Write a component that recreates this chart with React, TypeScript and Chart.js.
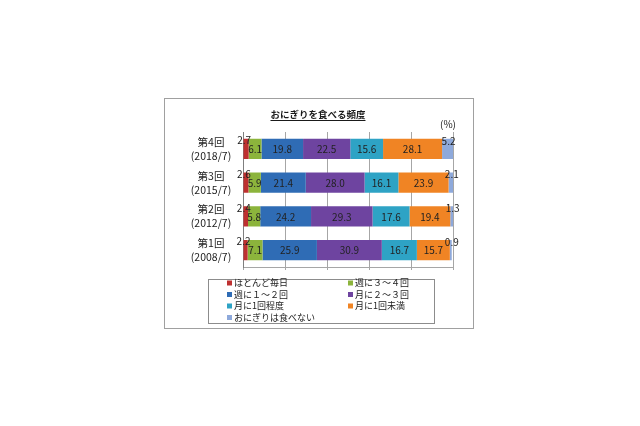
import { useEffect, useRef } from "react";
import { Chart, registerables } from "chart.js";

Chart.register(...registerables);

const FONT = '"Noto Sans CJK JP", "Noto Sans", sans-serif';

const titleText = "おにぎりを食べる頻度";
const unitText = "(%)";

const categories: string[][] = [
  ["第4回", "(2018/7)"],
  ["第3回", "(2015/7)"],
  ["第2回", "(2012/7)"],
  ["第1回", "(2008/7)"],
];

const seriesNames = [
  "ほとんど毎日",
  "週に３～４回",
  "週に１～２回",
  "月に２～３回",
  "月に1回程度",
  "月に1回未満",
  "おにぎりは食べない",
];

const seriesColors = [
  "#BE3030",
  "#8CB43C",
  "#2F6CB5",
  "#6E44A0",
  "#2EA3C5",
  "#F08424",
  "#8EA9DB",
];

const daily = [2.7, 2.6, 2.4, 2.2];
const week34 = [6.1, 5.9, 5.8, 7.1];
const week12 = [19.8, 21.4, 24.2, 25.9];
const month23 = [22.5, 28.0, 29.3, 30.9];
const month1 = [15.6, 16.1, 17.6, 16.7];
const lessMonth1 = [28.1, 23.9, 19.4, 15.7];
const never = [5.2, 2.1, 1.3, 0.9];

const seriesValues = [daily, week34, week12, month23, month1, lessMonth1, never];

const xMin = 0;
const xMax = 100;
const xStep = 20;

const framePlugin = {
  id: "frame",
  beforeDraw(chart: any) {
    const ctx = chart.ctx;
    ctx.save();
    ctx.fillStyle = "#ffffff";
    ctx.fillRect(0, 0, chart.width, chart.height);
    ctx.strokeStyle = "#A0A0A0";
    ctx.lineWidth = 1;
    ctx.strokeRect(164.5, 98.5, 309, 230);
    ctx.restore();
  },
};

const textPlugin = {
  id: "texts",
  afterDraw(chart: any) {
    const ctx = chart.ctx;
    ctx.save();
    // title
    ctx.fillStyle = "#1a1a1a";
    ctx.font = `bold 9.5px ${FONT}`;
    ctx.textAlign = "center";
    ctx.textBaseline = "middle";
    ctx.fillText(titleText, 318, 114);
    const w = ctx.measureText(titleText).width;
    ctx.strokeStyle = "#1a1a1a";
    ctx.lineWidth = 1;
    ctx.beginPath();
    ctx.moveTo(318 - w / 2, 120.5);
    ctx.lineTo(318 + w / 2, 120.5);
    ctx.stroke();
    // unit
    ctx.font = `10px ${FONT}`;
    ctx.fillText(unitText, 448, 124);

    // y labels
    const yScale = chart.scales.y;
    ctx.font = `10.5px ${FONT}`;
    ctx.fillStyle = "#222";
    (chart.data.labels as string[][]).forEach((lab, i) => {
      const y = yScale.getPixelForTick(i);
      ctx.fillText(lab[0], 211, y - 7);
      ctx.fillText(lab[1], 211, y + 7);
    });

    // legend
    const lx0 = 208.5;
    const ly0 = 279.5;
    ctx.strokeStyle = "#8C8C8C";
    ctx.strokeRect(lx0, ly0, 226, 44);
    ctx.font = `9px ${FONT}`;
    ctx.textAlign = "left";
    const colX = [227, 348];
    const rowY = [283, 294.5, 306, 317.5];
    chart.data.datasets.forEach((ds: any, i: number) => {
      const c = i % 2;
      const r = Math.floor(i / 2);
      ctx.fillStyle = ds.backgroundColor;
      ctx.fillRect(colX[c], rowY[r] - 2.5, 5, 5);
      ctx.fillStyle = "#222";
      ctx.fillText(ds.label, colX[c] + 7, rowY[r]);
    });
    ctx.restore();
  },
};

const valueLabelPlugin = {
  id: "valueLabels",
  afterDatasetsDraw(chart: any) {
    const ctx = chart.ctx;
    ctx.save();
    ctx.font = `10px ${FONT}`;
    ctx.fillStyle = "#222";
    ctx.textAlign = "center";
    ctx.textBaseline = "middle";
    const n = chart.data.datasets.length;
    chart.data.datasets.forEach((ds: any, di: number) => {
      const meta = chart.getDatasetMeta(di);
      meta.data.forEach((el: any, i: number) => {
        const v = ds.data[i];
        let x = (el.x + el.base) / 2;
        let y = el.y;
        if (di === 0) {
          x -= 2;
          y -= 9;
        } else if (di === n - 1) {
          x += 1;
          y -= 8.5;
        }
        ctx.fillText(Number(v).toFixed(1), x, y + 0.5);
      });
    });
    ctx.restore();
  },
};

export default function App() {
  const ref = useRef<HTMLCanvasElement | null>(null);

  useEffect(() => {
    document.body.style.margin = "0";
    const canvas = ref.current;
    if (!canvas) return;
    const chart = new Chart(canvas, {
      type: "bar",
      data: {
        labels: categories,
        datasets: seriesNames.map((name, i) => ({
          label: name,
          data: seriesValues[i],
          backgroundColor: seriesColors[i],
          borderWidth: 0,
          barPercentage: 0.6,
          categoryPercentage: 1,
        })),
      },
      options: {
        indexAxis: "y",
        responsive: false,
        animation: false,
        events: [],
        layout: { padding: { left: 243, right: 187, top: 132, bottom: 159 } },
        plugins: {
          legend: { display: false },
          title: { display: false },
          tooltip: { enabled: false },
        },
        scales: {
          x: {
            stacked: true,
            min: xMin,
            max: xMax,
            ticks: { stepSize: xStep, display: false },
            grid: { color: "#A6A6A6", drawTicks: true, tickLength: 3, lineWidth: 1 },
            border: { display: true, color: "#A6A6A6" },
            afterFit(scale: any) {
              scale.height = 0;
            },
          },
          y: {
            stacked: true,
            ticks: { display: false },
            grid: { display: false, drawTicks: false },
            border: { display: true, color: "#7F7F7F" },
            afterFit(scale: any) {
              scale.width = 0;
            },
          },
        },
      },
      plugins: [framePlugin, valueLabelPlugin, textPlugin],
    } as any);
    return () => chart.destroy();
  }, []);

  return (
    <div style={{ position: "absolute", left: 0, top: 0, width: 640, height: 426 }}>
      <canvas ref={ref} width={640} height={426} style={{ width: 640, height: 426 }} />
    </div>
  );
}
